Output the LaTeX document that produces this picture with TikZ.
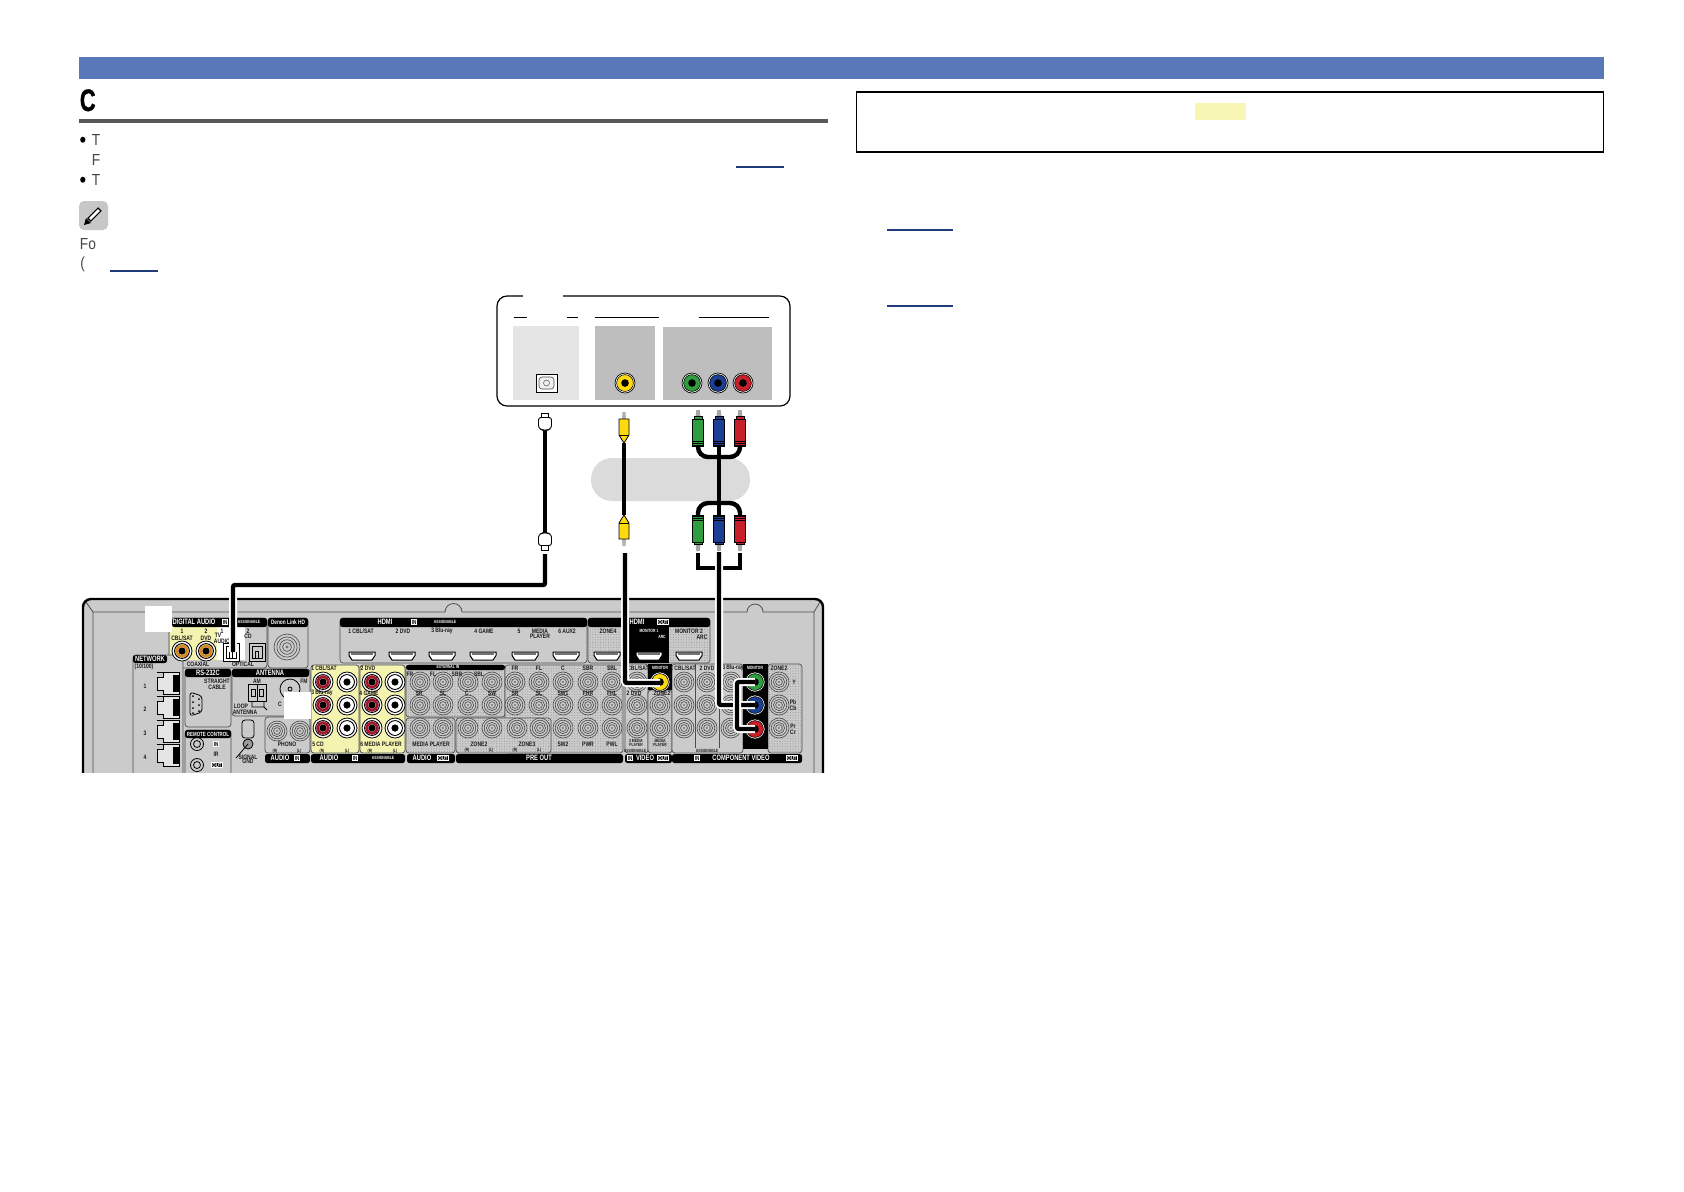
\documentclass[tikz,border=0pt]{standalone}
\usepackage{fontspec}
\usetikzlibrary{positioning,patterns.meta}
\newfontfamily\bodyfont[FakeStretch=.86]{Liberation Sans}
\newfontfamily\headfont[FakeStretch=.7,FakeBold=1.2]{Liberation Sans}
\newfontfamily\panelfont[FakeStretch=.78]{Liberation Sans}
\newfontfamily\barfont[FakeStretch=.74]{Liberation Sans}
\definecolor{bandblue}{HTML}{5878B8}
\definecolor{linkblue}{HTML}{1F3A78}
\definecolor{hilite}{HTML}{F7F6B4}
\definecolor{panelgrey}{HTML}{CBCBCB}
\definecolor{socketgrey}{HTML}{BEBEBE}
\definecolor{plugyellow}{HTML}{FFD90F}
\definecolor{pluggreen}{HTML}{2E9E3F}
\definecolor{plugblue}{HTML}{1B3F94}
\definecolor{plugred}{HTML}{C8202A}
\definecolor{jackred}{HTML}{A5152A}
\definecolor{jackorange}{HTML}{D88A1E}
\definecolor{audioyellow}{HTML}{F5F3B0}
\tikzset{
  bodytext/.style={anchor=base west,inner sep=0pt,text=black!72,font=\bodyfont\fontsize{8}{9}\selectfont},
  paneltext/.style={inner sep=0pt,text=black!90,font=\panelfont\bfseries\fontsize{3.2}{3.6}\selectfont},
  bartext/.style={inner sep=0pt,text=white,font=\barfont\bfseries\fontsize{3.9}{4.4}\selectfont},
  smallbar/.style={bartext,font=\barfont\bfseries\fontsize{3.2}{3.6}\selectfont},
  inbox/.style={bartext,fill=white,text=black,inner xsep=.5pt,inner ysep=.3pt,font=\barfont\bfseries\fontsize{3}{3.4}\selectfont},
  outbox/.style={inbox,fill=black,draw=white,line width=.25pt,text=white},
  tinytext/.style={paneltext,font=\barfont\bfseries\fontsize{2.3}{2.6}\selectfont},
  block/.style={draw=black!70,line width=.35pt,rounded corners=1.5pt},
  zoneblock/.style={block,fill=panelgrey,postaction={pattern={Dots[distance=1.3pt,radius=.28pt]},pattern color=black!40}},
  blackbar/.style={fill=black,rounded corners=1.2pt},
  wired/.style={line width=2.2pt,draw=black,preaction={draw=white,line width=4pt}},
  cable/.style={line width=2.2pt,draw=black},
  pics/ringjack/.style={code={
    \fill[panelgrey] (0,0) circle[radius=10];
    \foreach \rr in {10,7.8,5.6,3.4}
      \draw[black!70,line width=.32pt] (0,0) circle[radius=\rr];
    \fill[black!55] (0,0) circle[radius=1.2];
  }},
  pics/colorjack/.style={code={
    \draw[black,fill=white,line width=.35pt] (0,0) circle[radius=10];
    \fill[#1,draw=black,line width=.3pt] (0,0) circle[radius=8.4];
    \fill[black] (0,0) circle[radius=3.8];
  }},
  pics/audiojack/.style={code={
    \draw[black,fill=white,line width=.4pt] (0,0) circle[radius=10];
    \draw[black,line width=.5pt] (0,0) circle[radius=7.4];
    \draw[#1,line width=1.3pt] (0,0) circle[radius=5.4];
    \fill[black] (0,0) circle[radius=3.6];
  }},
  pics/netport/.style={code={
    \draw[black,fill=black!10,line width=.4pt] (-11,-11) -- (11,-11) -- (11,11) -- (-5,11) -- (-5,7) -- (-11,7) -- (-11,-6) -- (-5,-6) -- (-5,-11) -- cycle;
    \fill[black] (5,-8) rectangle (11,9);
  }},
  pics/hdmiport/.style={code={
    \draw[black,fill=white,line width=.5pt] (-13,-4) -- (13,-4) -- (13,-.5) -- (10,4) -- (-10,4) -- (-13,-.5) -- cycle;
    \fill[black!55] (-11,-2.6) rectangle (11,-.8);
  }},
  pics/optsocket/.style={code={
    \draw[black,fill=#1,line width=.45pt] (-8,-9) -- (8,-9) -- (8,9) -- (-8,9) -- cycle;
    \draw[black,line width=.35pt] (-5,-6) -- (5,-6) -- (5,6) -- (-5,6) -- cycle;
    \draw[black,line width=.35pt] (-1.5,6) -- (-1.5,-1) -- (1.5,-1) -- (1.5,6);
  }},
  pics/rcaplug/.style={code={
    \fill[black!35] (-1.7,-36) -- (1.7,-36) -- (2.5,-29) -- (-2.5,-29) -- cycle;
    \draw[black,fill=#1,line width=.35pt] (-4,-29.5) rectangle (4,-27);
    \draw[black,fill=#1,line width=.4pt] (-5.7,-27) rectangle (5.7,0);
    \foreach \bb in {-5,-3,-1}
      \draw[black,line width=.35pt] (-5.7,\bb) -- (5.7,\bb);
  }},
  pics/yellowplug/.style={code={
    \fill[black!30] (-1.5,-31) -- (1.5,-31) -- (2,-24) -- (-2,-24) -- cycle;
    \draw[black,fill=plugyellow,line width=.4pt] (-5,-24) -- (5,-24) -- (5,-8) -- (0,0) -- (-5,-8) -- cycle;
    \draw[black,line width=.35pt] (-5,-8) -- (5,-8);
  }},
  pics/fibreplug/.style={code={
    \draw[black,fill=white,line width=.45pt] (-3.5,-17) -- (3.5,-17) -- (3.5,-12.5) -- (-3.5,-12.5) -- cycle;
    \draw[black,fill=white,line width=.45pt,rounded corners=1.2pt] (-6.5,-12.5) -- (6.5,-12.5) -- (6.5,-2) -- (3,0) -- (-3,0) -- (-6.5,-2) -- cycle;
  }}
}
\begin{document}
\begin{tikzpicture}[x=.5pt,y=-.5pt]
  \useasboundingbox (0,0) rectangle (1684,1191);
  \fill[white] (0,0) rectangle (1684,1191);
  % page furniture
  \fill[bandblue] (79,57) rectangle (1604,79);
  \node[anchor=base west,inner sep=0pt,text=black,font=\headfont\bfseries\fontsize{15.5}{17}\selectfont] (title) at (79.5,111) {C};
  \fill[black!65] (79,119) rectangle (828,123);
  \foreach \bx/\by/\bt [count=\bi] in {91.5/145/T,91.5/165/F,91.5/185/T,79.5/249/Fo,80/268/(}
    \node[bodytext] (body\bi) at (\bx,\by) {\bt};
  \foreach \by [count=\bi] in {142,182}
    \node[inner sep=0pt,text=black,font=\bodyfont\fontsize{11}{12}\selectfont] (dot\bi) at (83,\by) {•};
  \fill[black!22,rounded corners=2.5pt] (79,201) rectangle (108,230);
  \draw[black,line width=2.6pt] (89,220) -- (100,209);
  \draw[white,line width=1.4pt] (90,219) -- (99,210);
  \fill[black] (84,225) -- (86,218) -- (91,223) -- cycle;
  \foreach \ux/\uy/\ul in {736/167/48,110/271/48,887/230/66,887/306/66}
    \draw[linkblue,line width=.6pt] (\ux,\uy) -- ++(\ul,0);
  \draw[black,line width=.6pt] (856.5,92) rectangle (1603.5,152);
  \fill[hilite] (1195,103) rectangle (1246,120);
  % monitor box
  \draw[black,line width=.6pt,rounded corners=5pt] (497,296) rectangle (790,406);
  \fill[white] (523,293) rectangle (563,299);
  \foreach \hx/\hw in {514/13,567/11,595/64,699/70}
    \draw[black,line width=.45pt] (\hx,317) -- ++(\hw,0);
  \fill[black!10] (513,326) rectangle (579,400);
  \fill[socketgrey] (595,326) rectangle (655,400);
  \fill[socketgrey] (663,327) rectangle (772,400);
  \draw[black,fill=white,line width=.5pt] (536,374) rectangle (557,392);
  \draw[black!70,fill=black!6,line width=.3pt,rounded corners=1.5pt] (539,377) rectangle (554,389);
  \draw[black!60,line width=.3pt] (546.5,383) circle[radius=3];
  \pic at (625,383) {colorjack=plugyellow};
  \pic at (692,383) {colorjack=pluggreen};
  \pic at (718,383) {colorjack=plugblue};
  \pic at (743,383) {colorjack=plugred};
  \fill[black!14,rounded corners=10.5pt] (591,458) rectangle (750,501);
  % cables above the receiver
  \coordinate (opttop) at (545,430);
  \coordinate (optlow) at (545,533);
  \coordinate (optbot) at (545,554);
  \coordinate (optmid) at (233,585);
  \coordinate (optjack) at (233,652);
  \coordinate (vidtop) at (624,443);
  \coordinate (vidlow) at (624,515);
  \coordinate (vidbot) at (625,553);
  \coordinate (vidjack) at (660,683);
  \coordinate (ytop) at (698,446);
  \coordinate (pbtop) at (719,446);
  \coordinate (prtop) at (740,446);
  \coordinate (pbjoin) at (719,457);
  \coordinate (ylow) at (698,515);
  \coordinate (pblow) at (719,515);
  \coordinate (prlow) at (740,515);
  \coordinate (pbarc) at (719,503);
  \coordinate (ybot) at (698,553);
  \coordinate (pbbot) at (719,552);
  \coordinate (prbot) at (740,553);
  \coordinate (pbfork) at (719,568);
  \coordinate (ymon) at (755,682);
  \coordinate (pbmon) at (755,705);
  \coordinate (prmon) at (755,729);
  \coordinate (prfork) at (737,729);
  \draw[cable] (opttop) -- (optlow);
  \draw[cable] (vidtop) -- (vidlow);
  \draw[cable,rounded corners=5pt] (ytop) |- (pbjoin) -| (prtop);
  \draw[cable,rounded corners=5pt] (ylow) |- (pbarc) -| (prlow);
  \draw[cable] (pbtop) -- (pblow);
  \draw[cable] (ybot) |- (pbfork) -| (prbot);
  \pic at (545,430) {fibreplug};
  \pic[yscale=-1] at (545,533) {fibreplug};
  \pic at (624,443) {yellowplug};
  \pic[yscale=-1] at (624,515) {yellowplug};
  \pic at (ytop) {rcaplug=pluggreen};
  \pic at (pbtop) {rcaplug=plugblue};
  \pic at (prtop) {rcaplug=plugred};
  \pic[yscale=-1] at (ylow) {rcaplug=pluggreen};
  \pic[yscale=-1] at (pblow) {rcaplug=plugblue};
  \pic[yscale=-1] at (prlow) {rcaplug=plugred};
  % receiver rear panel
  \draw[black,fill=panelgrey,line width=1.2pt,rounded corners=4pt] (83,780) -- (83,599) -- (823,599) -- (823,780);
  \draw[black!70,line width=.4pt] (93,780) -- (93,612) -- (445,612) arc[start angle=180,end angle=360,radius=8.5] -- (747,612) arc[start angle=180,end angle=360,radius=8] -- (814,612) -- (814,780);
  \draw[black!70,line width=.4pt] (86,602) -- (93,612) (820,602) -- (814,612);
  \fill[panelgrey] (446,611) rectangle (461,613) (748,611) rectangle (762,613);
  % connector groups
  \draw[block,fill=panelgrey] (169,618) rectangle (267,668);
  \fill[audioyellow] (169.5,627) rectangle (217,660);
  \fill[white] (217,627) rectangle (245,660);
  \draw[block,fill=panelgrey] (268,618) rectangle (308,668);
  \draw[block,fill=panelgrey] (340,618) rectangle (587,663);
  \draw[zoneblock] (588,618) rectangle (710,663);
  \fill[black] (628,627) rectangle (669,663);
  \draw[block,fill=panelgrey] (133,655) rectangle (183,790);
  \draw[block,fill=panelgrey] (185,669) rectangle (231,727);
  \draw[block,fill=panelgrey] (185,730) rectangle (231,790);
  \draw[block,fill=panelgrey] (232,669) rectangle (310,716);
  \draw[block,fill=panelgrey] (265,717) rectangle (310,753);
  \draw[block,fill=audioyellow] (311,665) rectangle (359,753);
  \draw[block,fill=audioyellow] (360,665) rectangle (405,753);
  \draw[zoneblock] (406,665) rectangle (505,717);
  \draw[zoneblock] (505,665) rectangle (623,753);
  \draw[zoneblock] (406,718) rectangle (455,753);
  \draw[zoneblock] (456,718) rectangle (551,753);
  \draw[block,fill=panelgrey] (625,664) rectangle (648,753);
  \draw[zoneblock] (648,690) rectangle (672,753);
  \draw[block,fill=panelgrey] (672,664) rectangle (743,753);
  \draw[zoneblock] (768,664) rectangle (802,753);
  \draw[black!70,line width=.35pt] (695,664) -- (695,748) (719,664) -- (719,748);
  % black headers and bars
  \fill[blackbar] (172,618) rectangle (267,627);
  \fill[blackbar] (268,618) rectangle (308,627);
  \fill[blackbar] (340,618) rectangle (587,627);
  \fill[blackbar] (588,618) rectangle (710,627);
  \fill[blackbar] (133,655) rectangle (167,663);
  \fill[blackbar] (185,669) rectangle (231,677);
  \fill[blackbar] (232,669) rectangle (309,677);
  \fill[blackbar] (185,730) rectangle (231,738);
  \fill[blackbar] (406,665) rectangle (505,670);
  \fill[black] (648,664) rectangle (672,690);
  \fill[black] (743,664) rectangle (768,749);
  \fill[blackbar] (265,754) rectangle (310,763);
  \fill[blackbar] (311,754) rectangle (405,763);
  \fill[blackbar] (407,754) rectangle (455,763);
  \fill[blackbar] (456,754) rectangle (623,763);
  \fill[blackbar] (625,754) rectangle (672,763);
  \fill[blackbar] (672,754) rectangle (802,763);
  % sockets
  \foreach \jx in {182,206}
    \pic at (\jx,651) {audiojack=jackorange};
  \pic at (231,652) {optsocket=white};
  \pic at (257,652) {optsocket=panelgrey};
  \pic[scale=1.3] at (287,647) {ringjack};
  \foreach \jy in {683,707,731,755}
    \pic at (168,\jy) {netport};
  \foreach \jx in {362,402,442,483,525,566,607,649,689}
    \pic at (\jx,656) {hdmiport};
  \foreach \jx in {323,372} \foreach \jy in {682,705,728}
    \pic at (\jx,\jy) {audiojack=jackred};
  \foreach \jx in {347,395} \foreach \jy in {682,705,728}
    \pic at (\jx,\jy) {audiojack=white};
  \foreach \jx in {420,443,468,492,515,539,563,588,612,637,684,707,731,779} \foreach \jy in {682,705}
    \pic at (\jx,\jy) {ringjack};
  \foreach \jx in {420,443,468,492,517,540,563,588,612,637,660,684,707,731,779}
    \pic at (\jx,728) {ringjack};
  \foreach \jx in {277,300}
    \pic at (\jx,731) {ringjack};
  \pic at (660,705) {ringjack};
  \pic at (660,682) {colorjack=plugyellow};
  \pic at (ymon) {colorjack=pluggreen};
  \pic at (pbmon) {colorjack=plugblue};
  \pic at (prmon) {colorjack=plugred};
  % serial port, antenna, ground
  \draw[black,fill=panelgrey,line width=.4pt,rounded corners=1.5pt] (190,692) -- (202,696) -- (202,712) -- (190,716) -- cycle;
  \foreach \dy in {696,702,708,713}
    \fill[black] (193,\dy) circle[radius=1];
  \foreach \dy in {699,705,711}
    \fill[black] (199,\dy) circle[radius=1];
  \foreach \jy in {744,765}{
    \draw[black,line width=.4pt] (197,\jy) circle[radius=6.5];
    \draw[black,line width=.4pt] (197,\jy) circle[radius=3.5];
  }
  \draw[black,line width=.45pt] (248,684) rectangle (266,701);
  \draw[black,line width=.45pt] (257,684) -- (257,701);
  \draw[black,line width=.45pt] (251,689) rectangle (255,696) (259,689) rectangle (263,696);
  \draw[black,line width=.4pt] (252,701) -- (252,707) -- (264,707) -- (264,701) (264,707) -- (267,710);
  \draw[black,line width=.4pt] (290,689) circle[radius=10];
  \draw[black,line width=.4pt] (290,689) circle[radius=2];
  \draw[black,fill=panelgrey,line width=.4pt,rounded corners=1.5pt] (242,720) rectangle (254,738);
  \draw[black,fill=black!40,line width=.4pt] (248,744) circle[radius=5];
  \draw[black,line width=.4pt] (248,744) -- (236,758);
  % panel texts
  \foreach \lx/\ly/\lt [count=\li] in {182/631/1,206/631/2,182/638/{CBL/SAT},206/638/DVD,222/631/1,218/635/TV,222/641/AUDIO,248/631/2,248/636/CD,198/664/COAXIAL,243/664/OPTICAL,
    144/667/{(10/100)},145/686/1,145/709/2,145/733/3,145/757/4,217/681/STRAIGHT,217/687/CABLE,257/681/AM,304/681/FM,241/706/LOOP,245/712/ANTENNA,280/704/C,216/754/IR,248/757/SIGNAL,248/761/GND,
    287/744/PHONO,324/668/{1 CBL/SAT},322/693/{3 Blu-ray},318/744/{5 CD},368/668/{2 DVD},369/693/{4 GAME},381/744/{6 MEDIA PLAYER},431/744/{MEDIA PLAYER},
    515/668/FR,539/668/FL,563/668/C,588/668/SBR,612/668/SBL,515/693/SR,539/693/SL,563/693/SW1,588/693/FHR,612/693/FHL,410/674/FR,433/674/FL,457/674/SBR,479/674/SBL,419/693/SR,443/693/SL,467/693/C,492/693/SW,
    479/744/ZONE2,527/744/ZONE3,563/744/SW2,588/744/PWR,612/744/PWL,638/668/{CBL/SAT},634/693/{2 DVD},662/693/ZONE2,
    683/668/{1 CBL/SAT},707/668/{2 DVD},733/668/{3 Blu-ray},779/668/ZONE2,794/682/Y,793/702/Pb/,793/708/Cb,793/726/Pr/,793/732/Cr,
    361/631/{1 CBL/SAT},403/631/{2 DVD},442/631/{3 Blu-ray},484/631/{4 GAME},519/631/5,540/631/MEDIA,540/636/PLAYER,567/631/{6 AUX2},608/631/ZONE4,689/631/{MONITOR 2},702/637/ARC}
    \node[paneltext] (lbl\li) at (\lx,\ly) {\lt};
  \foreach \lx/\ly/\lt [count=\li] in {275/751/(R),299/751/(L),322/751/(R),347/751/(L),370/751/(R),395/751/(L),467/750/(R),491/750/(L),515/750/(R),539/750/(L),635/751/ASSIGNABLE,707/751/ASSIGNABLE,
    636/741/{3 MEDIA},636/745/PLAYER,660/741/MEDIA,660/745/PLAYER}
    \node[tinytext] (tiny\li) at (\lx,\ly) {\lt};
  \foreach \lx/\ly/\lt [count=\li] in {194/622/{DIGITAL AUDIO},150/659/NETWORK,208/673/RS-232C,270/673/ANTENNA,385/622/HDMI,637/622/HDMI,
    280/758/AUDIO,329/758/AUDIO,422/758/AUDIO,539/758/{PRE OUT},645/758/VIDEO,741/758/{COMPONENT VIDEO}}
    \node[bartext] (bar\li) at (\lx,\ly) {\lt};
  \node[smallbar] (denon) at (288,622.5) {Denon Link HD};
  \node[smallbar,font=\barfont\bfseries\fontsize{3}{3.4}\selectfont] (remote) at (208,734) {REMOTE CONTROL};
  \foreach \lx/\ly/\lt [count=\li] in {249/622/ASSIGNABLE,445/622/ASSIGNABLE,383/758/ASSIGNABLE,448/667/{EXTERNAL IN},649/631/{MONITOR 1},662/637/ARC,660/668/MONITOR,755/668/MONITOR}
    \node[tinytext,text=white] (white\li) at (\lx,\ly) {\lt};
  \foreach \lx/\ly [count=\li] in {225/622,414/622,297/758,355/758,630/758,697/758,216/744}
    \node[inbox] (in\li) at (\lx,\ly) {IN};
  \foreach \lx/\ly [count=\li] in {663/622,443/758,663/758,792/758,217/765}
    \node[outbox] (out\li) at (\lx,\ly) {OUT};
  % cables into the receiver
  \draw[wired,rounded corners=1pt] (optbot) |- (optmid) -- (optjack);
  \draw[wired,rounded corners=1pt] (vidbot) |- (vidjack);
  \draw[wired,rounded corners=1pt] (pbbot) |- (pbmon);
  \draw[wired,rounded corners=1pt] (ymon) -| (prfork) -- (prmon);
  % blanked patches
  \fill[white] (145,606) rectangle (172,632);
  \fill[white] (284,692) rectangle (311,719);
  \fill[white] (75,773) rectangle (830,800);
\end{tikzpicture}
\end{document}
